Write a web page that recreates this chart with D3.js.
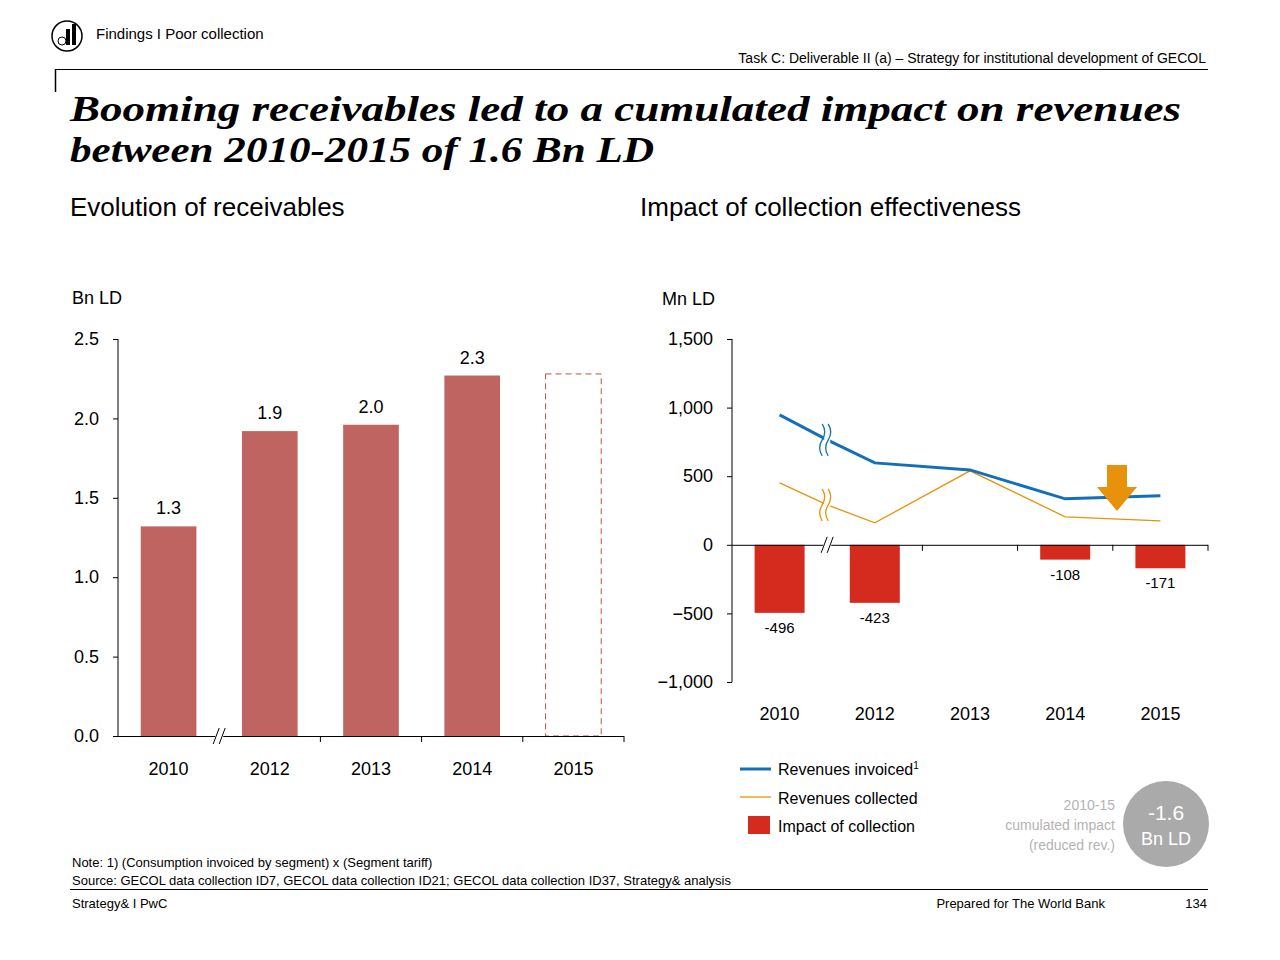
<!DOCTYPE html>
<html><head><meta charset="utf-8">
<script src="https://cdn.jsdelivr.net/npm/d3@7"></script>
<style>body{margin:0;background:#fff}text{font-family:"Liberation Sans",Arial,sans-serif;fill:#000}</style>
</head><body>
<svg id="c" width="1280" height="960"></svg>
<script>
var years = ['2010', '2012', '2013', '2014', '2015'];
var receivables = [1.32, 1.92, 1.96, 2.27, 2.28];
var receivableLabels = ['1.3', '1.9', '2.0', '2.3', ''];
var leftTicks = [0, 0.5, 1.0, 1.5, 2.0, 2.5];
var impact = [-496, -423, null, -108, -171];
// revenues: 2010, break point (between 2010 and 2012), 2012 .. 2015
var linePos = [0, 0.5, 1, 2, 3, 4];
var invoiced = [947, 765, 597, 546, 335, 357];
var collected = [452, 291, 160, 539, 204, 175];
var rightTicks = [-1000, -500, 0, 500, 1000, 1500];

var svg = d3.select('#c');
function txt(x, y, s, size, anchor, extra) {
  var t = svg.append('text').attr('x', x).attr('y', y).text(s)
    .style('font-size', size + 'px').attr('text-anchor', anchor || 'start');
  if (extra) extra(t);
  return t;
}

// header
svg.append('circle').attr('cx', 67).attr('cy', 36).attr('r', 15).attr('fill', 'none').attr('stroke', '#000').attr('stroke-width', 1.5);
svg.append('rect').attr('x', 66).attr('y', 29).attr('width', 4).attr('height', 16).attr('fill', '#000');
svg.append('rect').attr('x', 72).attr('y', 24).attr('width', 4).attr('height', 21).attr('fill', '#000');
svg.append('circle').attr('cx', 62).attr('cy', 41).attr('r', 4).attr('fill', '#fff').attr('stroke', '#000');
txt(96, 39, 'Findings I Poor collection', 15);
txt(1206, 63, 'Task C: Deliverable II (a) – Strategy for institutional development of GECOL', 14, 'end');
svg.append('line').attr('x1', 55).attr('x2', 1208).attr('y1', 69.5).attr('y2', 69.5).attr('stroke', '#000');
svg.append('line').attr('x1', 55.5).attr('x2', 55.5).attr('y1', 69).attr('y2', 92).attr('stroke', '#000').attr('stroke-width', 1.5);
function title(y, s, len) {
  txt(70, y, s, 35, 'start', function (t) {
    t.style('font-family', '"Liberation Serif",serif').style('font-weight', 'bold').style('font-style', 'italic')
      .attr('textLength', len).attr('lengthAdjust', 'spacingAndGlyphs');
  });
}
title(121, 'Booming receivables led to a cumulated impact on revenues', 1111);
title(162, 'between 2010-2015 of 1.6 Bn LD', 584);
txt(70, 216, 'Evolution of receivables', 26);
txt(640, 216, 'Impact of collection effectiveness', 26);

// left chart
var xl = d3.scaleBand().domain(years).range([118, 624]).paddingInner(0.45).paddingOuter(0.225);
var yl = d3.scaleLinear().domain([0, 2.5]).range([736, 339]);
txt(72, 304, 'Bn LD', 18);
var gl = svg.append('g').attr('transform', 'translate(118,0)')
  .call(d3.axisLeft(yl).tickValues(leftTicks).tickFormat(d3.format('.1f')).tickSize(5).tickPadding(14));
gl.select('.domain').remove();
gl.append('line').attr('y1', 339).attr('y2', 736).attr('stroke', '#000');
gl.selectAll('text').style('font-size', '18px').attr('fill', '#000');
svg.selectAll('.lb').data(years.slice(0, 4)).enter().append('rect')
  .attr('x', function (d) { return xl(d); }).attr('width', xl.bandwidth())
  .attr('y', function (d, i) { return yl(receivables[i]); })
  .attr('height', function (d, i) { return yl(0) - yl(receivables[i]); }).attr('fill', '#c06462');
svg.append('rect').attr('x', xl('2015')).attr('width', xl.bandwidth())
  .attr('y', yl(receivables[4])).attr('height', yl(0) - yl(receivables[4]))
  .attr('fill', 'none').attr('stroke', '#c0504d').attr('stroke-dasharray', '6,4');
years.forEach(function (d, i) {
  if (receivableLabels[i]) txt(xl(d) + xl.bandwidth() / 2, yl(receivables[i]) - 12, receivableLabels[i], 18, 'middle');
  txt(xl(d) + xl.bandwidth() / 2, 775, d, 18, 'middle');
});
svg.append('line').attr('x1', 118).attr('x2', 624).attr('y1', 736.5).attr('y2', 736.5).attr('stroke', '#000');
var stepL = xl.step();
[1, 2, 3, 4, 5].forEach(function (k) {
  var x = 118 + k * stepL;
  if (k === 1) return;
  svg.append('line').attr('x1', x).attr('x2', x).attr('y1', 736).attr('y2', 742).attr('stroke', '#000');
});
function brk(x, y) {
  svg.append('rect').attr('x', x - 4).attr('y', y - 3).attr('width', 8).attr('height', 6).attr('fill', '#fff');
  [-3, 3].forEach(function (o) {
    svg.append('line').attr('x1', x + o - 3).attr('x2', x + o + 3).attr('y1', y + 8).attr('y2', y - 8).attr('stroke', '#000');
  });
}
brk(118 + stepL, 736);

// right chart
var xr = d3.scaleBand().domain(years).range([732, 1208]).paddingInner(0.45).paddingOuter(0.225);
var yr = d3.scaleLinear().domain([-1000, 1500]).range([682, 339]);
function cx(p) { return 732 + (p + 0.5) * xr.step(); }
txt(662, 305, 'Mn LD', 18);
var gr = svg.append('g').attr('transform', 'translate(732,0)')
  .call(d3.axisLeft(yr).tickValues(rightTicks).tickFormat(d3.format(',')).tickSize(5).tickPadding(14));
gr.select('.domain').remove();
gr.append('line').attr('y1', 339).attr('y2', 682).attr('stroke', '#000');
gr.selectAll('text').style('font-size', '18px').attr('fill', '#000');
years.forEach(function (d, i) {
  txt(cx(i), 720, d, 18, 'middle');
  if (impact[i] === null) return;
  svg.append('rect').attr('x', cx(i) - 25).attr('width', 50).attr('y', yr(0))
    .attr('height', yr(impact[i]) - yr(0)).attr('fill', '#d52b1e');
  txt(cx(i), yr(impact[i]) + 20, impact[i], 15, 'middle');
});
svg.append('line').attr('x1', 732).attr('x2', 1208).attr('y1', yr(0) + 0.5).attr('y2', yr(0) + 0.5).attr('stroke', '#000');
[2, 3, 4, 5].forEach(function (k) {
  var x = 732 + k * xr.step();
  svg.append('line').attr('x1', x).attr('x2', x).attr('y1', yr(0)).attr('y2', yr(0) + 6).attr('stroke', '#000');
});
brk(732 + xr.step(), yr(0));
var line = d3.line().x(function (d, i) { return cx(linePos[i]); }).y(function (d) { return yr(d); });
svg.append('path').attr('d', line(collected)).attr('fill', 'none').attr('stroke', '#e8920c').attr('stroke-width', 1.3);
svg.append('path').attr('d', line(invoiced)).attr('fill', 'none').attr('stroke', '#1370b8').attr('stroke-width', 3);
function wave(x, y, col) {
  svg.append('rect').attr('x', x - 3).attr('y', y - 16).attr('width', 6).attr('height', 32).attr('fill', '#fff');
  [-3, 3].forEach(function (o) {
    svg.append('path').attr('d', 'M' + (x + o - 2) + ',' + (y - 16) + ' q5,8 0,16 q-5,8 0,16')
      .attr('fill', 'none').attr('stroke', col).attr('stroke-width', 1.3);
  });
}
wave(cx(0.5), yr(invoiced[1]), '#1370b8');
wave(cx(0.5), yr(collected[1]), '#e8920c');
// arrow
svg.append('path').attr('d', 'M1107,465 h20 v22 h10 l-20,24 l-20,-24 h10 z').attr('fill', '#e8920c');

// legend
svg.append('line').attr('x1', 740).attr('x2', 771).attr('y1', 769).attr('y2', 769).attr('stroke', '#1370b8').attr('stroke-width', 3);
svg.append('line').attr('x1', 740).attr('x2', 771).attr('y1', 797).attr('y2', 797).attr('stroke', '#e8920c').attr('stroke-width', 1.3);
svg.append('rect').attr('x', 748).attr('y', 816).attr('width', 22).attr('height', 18).attr('fill', '#d52b1e');
var lt = txt(778, 775, 'Revenues invoiced', 16);
lt.append('tspan').text('1').style('font-size', '10px').attr('dy', -6);
txt(778, 804, 'Revenues collected', 16);
txt(778, 832, 'Impact of collection', 16);
['2010-15', 'cumulated impact', '(reduced rev.)'].forEach(function (s, i) {
  txt(1115, 810 + i * 20, s, 14, 'end', function (t) { t.style('fill', '#b3b3b3'); });
});
svg.append('circle').attr('cx', 1166).attr('cy', 824).attr('r', 43).attr('fill', '#aaaaaa');
txt(1166, 820, '-1.6', 21, 'middle', function (t) { t.style('fill', '#fff'); });
txt(1166, 845, 'Bn LD', 18, 'middle', function (t) { t.style('fill', '#fff'); });

// footer
txt(72, 867, 'Note: 1) (Consumption invoiced by segment) x (Segment tariff)', 13);
txt(72, 885, 'Source: GECOL data collection ID7, GECOL data collection ID21; GECOL data collection ID37, Strategy& analysis', 13);
svg.append('line').attr('x1', 70).attr('x2', 1208).attr('y1', 889.5).attr('y2', 889.5).attr('stroke', '#000');
txt(72, 908, 'Strategy& I PwC', 13);
txt(1105, 908, 'Prepared for The World Bank', 13, 'end');
txt(1207, 908, '134', 13, 'end');
</script>
</body></html>
